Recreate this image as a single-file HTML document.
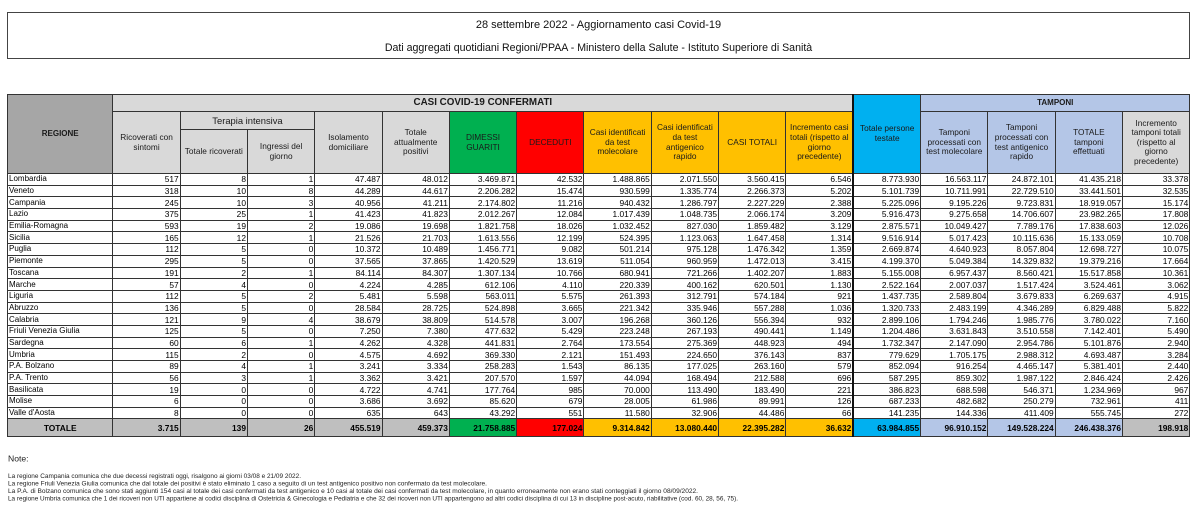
<!DOCTYPE html>
<html><head><meta charset="utf-8">
<style>
*{margin:0;padding:0;box-sizing:border-box}
body{width:1199px;height:513px;background:#fff;position:relative;overflow:hidden;font-family:"Liberation Sans",sans-serif;color:#111}
#title{position:absolute;left:7px;top:12px;width:1183px;height:47px;border:1px solid #444;text-align:center}
#t1{position:absolute;left:0;right:0;top:5px;font-size:11px;line-height:14px}
#t2{position:absolute;left:0;right:0;top:28px;font-size:10.6px;line-height:14px}
table{position:absolute;left:7px;top:94px;width:1182.4px;border-collapse:collapse;table-layout:fixed;border:1.5px solid #444}
td{border:1px solid #333;padding:0 1px;overflow:hidden;white-space:nowrap}
thead td{font-size:8.3px;line-height:9.6px;text-align:center;vertical-align:middle;color:#1a1a1a;overflow:visible}
tbody td{font-size:8.4px;line-height:10px;text-align:right;color:#000}
tbody td.r{text-align:left;font-size:8px}
.hreg{background:#a6a6a6;font-weight:bold;font-size:8px!important;vertical-align:middle}
.hg{background:#d9d9d9}
.hcasi{background:#d9d9d9;font-weight:bold;font-size:9.8px!important}
.ti{font-size:9.4px!important}
.hgreen{background:#00b050}
.hred{background:#ff0000}
.hy{background:#ffc000}
.hb{background:#00b0f0}
.hlb{background:#b4c6e7}
.tb{font-weight:bold;font-size:8px!important}
tr.tot td{font-weight:bold;background:#bfbfbf;font-size:8.4px}
tr.tot td.r{text-align:center}
tr.tot td.g{background:#00b050}
tr.tot td.rd{background:#ff0000}
tr.tot td.y{background:#ffc000}
tr.tot td.b{background:#00b0f0}
tr.tot td.lb{background:#b4c6e7}
tbody tr{height:11.7px}
.thk{border-left:2px solid #111}
</style></head><body>
<div id="title"><div id="t1">28 settembre 2022 - Aggiornamento casi Covid-19</div><div id="t2">Dati aggregati quotidiani Regioni/PPAA - Ministero della Salute - Istituto Superiore di Sanità</div></div>
<table>
<colgroup><col style="width:105.4px"><col style="width:67.3px"><col style="width:67.3px"><col style="width:67.3px"><col style="width:67.3px"><col style="width:67.3px"><col style="width:67.3px"><col style="width:67.3px"><col style="width:67.3px"><col style="width:67.3px"><col style="width:67.3px"><col style="width:67.3px"><col style="width:67.3px"><col style="width:67.3px"><col style="width:67.3px"><col style="width:67.3px"><col style="width:67.3px"></colgroup>
<thead>
<tr style="height:17px">
<td rowspan="3" class="hreg">REGIONE</td>
<td colspan="11" class="hcasi">CASI COVID-19 CONFERMATI</td>
<td rowspan="3" class="hb thk">Totale persone<br>testate</td>
<td colspan="4" class="hlb tb">TAMPONI</td>
</tr>
<tr style="height:18px">
<td rowspan="2" class="hg">Ricoverati con<br>sintomi</td>
<td colspan="2" class="hg ti">Terapia intensiva</td>
<td rowspan="2" class="hg">Isolamento<br>domiciliare</td>
<td rowspan="2" class="hg">Totale<br>attualmente<br>positivi</td>
<td rowspan="2" class="hgreen">DIMESSI<br>GUARITI</td>
<td rowspan="2" class="hred">DECEDUTI</td>
<td rowspan="2" class="hy">Casi identificati<br>da test<br>molecolare</td>
<td rowspan="2" class="hy">Casi identificati<br>da test<br>antigenico<br>rapido</td>
<td rowspan="2" class="hy">CASI TOTALI</td>
<td rowspan="2" class="hy">Incremento casi<br>totali (rispetto al<br>giorno<br>precedente)</td>
<td rowspan="2" class="hlb">Tamponi<br>processati con<br>test molecolare</td>
<td rowspan="2" class="hlb">Tamponi<br>processati con<br>test antigenico<br>rapido</td>
<td rowspan="2" class="hlb">TOTALE<br>tamponi<br>effettuati</td>
<td rowspan="2" class="hg">Incremento<br>tamponi totali<br>(rispetto al<br>giorno<br>precedente)</td>
</tr>
<tr style="height:44px">
<td class="hg">Totale ricoverati</td>
<td class="hg">Ingressi del<br>giorno</td>
</tr>
</thead>
<tbody>
<tr><td class="r">Lombardia</td><td>517</td><td>8</td><td>1</td><td>47.487</td><td>48.012</td><td>3.469.871</td><td>42.532</td><td>1.488.865</td><td>2.071.550</td><td>3.560.415</td><td>6.546</td><td class="thk">8.773.930</td><td>16.563.117</td><td>24.872.101</td><td>41.435.218</td><td>33.378</td></tr>
<tr><td class="r">Veneto</td><td>318</td><td>10</td><td>8</td><td>44.289</td><td>44.617</td><td>2.206.282</td><td>15.474</td><td>930.599</td><td>1.335.774</td><td>2.266.373</td><td>5.202</td><td class="thk">5.101.739</td><td>10.711.991</td><td>22.729.510</td><td>33.441.501</td><td>32.535</td></tr>
<tr><td class="r">Campania</td><td>245</td><td>10</td><td>3</td><td>40.956</td><td>41.211</td><td>2.174.802</td><td>11.216</td><td>940.432</td><td>1.286.797</td><td>2.227.229</td><td>2.388</td><td class="thk">5.225.096</td><td>9.195.226</td><td>9.723.831</td><td>18.919.057</td><td>15.174</td></tr>
<tr><td class="r">Lazio</td><td>375</td><td>25</td><td>1</td><td>41.423</td><td>41.823</td><td>2.012.267</td><td>12.084</td><td>1.017.439</td><td>1.048.735</td><td>2.066.174</td><td>3.209</td><td class="thk">5.916.473</td><td>9.275.658</td><td>14.706.607</td><td>23.982.265</td><td>17.808</td></tr>
<tr><td class="r">Emilia-Romagna</td><td>593</td><td>19</td><td>2</td><td>19.086</td><td>19.698</td><td>1.821.758</td><td>18.026</td><td>1.032.452</td><td>827.030</td><td>1.859.482</td><td>3.129</td><td class="thk">2.875.571</td><td>10.049.427</td><td>7.789.176</td><td>17.838.603</td><td>12.026</td></tr>
<tr><td class="r">Sicilia</td><td>165</td><td>12</td><td>1</td><td>21.526</td><td>21.703</td><td>1.613.556</td><td>12.199</td><td>524.395</td><td>1.123.063</td><td>1.647.458</td><td>1.314</td><td class="thk">9.516.914</td><td>5.017.423</td><td>10.115.636</td><td>15.133.059</td><td>10.708</td></tr>
<tr><td class="r">Puglia</td><td>112</td><td>5</td><td>0</td><td>10.372</td><td>10.489</td><td>1.456.771</td><td>9.082</td><td>501.214</td><td>975.128</td><td>1.476.342</td><td>1.359</td><td class="thk">2.669.874</td><td>4.640.923</td><td>8.057.804</td><td>12.698.727</td><td>10.075</td></tr>
<tr><td class="r">Piemonte</td><td>295</td><td>5</td><td>0</td><td>37.565</td><td>37.865</td><td>1.420.529</td><td>13.619</td><td>511.054</td><td>960.959</td><td>1.472.013</td><td>3.415</td><td class="thk">4.199.370</td><td>5.049.384</td><td>14.329.832</td><td>19.379.216</td><td>17.664</td></tr>
<tr><td class="r">Toscana</td><td>191</td><td>2</td><td>1</td><td>84.114</td><td>84.307</td><td>1.307.134</td><td>10.766</td><td>680.941</td><td>721.266</td><td>1.402.207</td><td>1.883</td><td class="thk">5.155.008</td><td>6.957.437</td><td>8.560.421</td><td>15.517.858</td><td>10.361</td></tr>
<tr><td class="r">Marche</td><td>57</td><td>4</td><td>0</td><td>4.224</td><td>4.285</td><td>612.106</td><td>4.110</td><td>220.339</td><td>400.162</td><td>620.501</td><td>1.130</td><td class="thk">2.522.164</td><td>2.007.037</td><td>1.517.424</td><td>3.524.461</td><td>3.062</td></tr>
<tr><td class="r">Liguria</td><td>112</td><td>5</td><td>2</td><td>5.481</td><td>5.598</td><td>563.011</td><td>5.575</td><td>261.393</td><td>312.791</td><td>574.184</td><td>921</td><td class="thk">1.437.735</td><td>2.589.804</td><td>3.679.833</td><td>6.269.637</td><td>4.915</td></tr>
<tr><td class="r">Abruzzo</td><td>136</td><td>5</td><td>0</td><td>28.584</td><td>28.725</td><td>524.898</td><td>3.665</td><td>221.342</td><td>335.946</td><td>557.288</td><td>1.036</td><td class="thk">1.320.733</td><td>2.483.199</td><td>4.346.289</td><td>6.829.488</td><td>5.822</td></tr>
<tr><td class="r">Calabria</td><td>121</td><td>9</td><td>4</td><td>38.679</td><td>38.809</td><td>514.578</td><td>3.007</td><td>196.268</td><td>360.126</td><td>556.394</td><td>932</td><td class="thk">2.899.106</td><td>1.794.246</td><td>1.985.776</td><td>3.780.022</td><td>7.160</td></tr>
<tr><td class="r">Friuli Venezia Giulia</td><td>125</td><td>5</td><td>0</td><td>7.250</td><td>7.380</td><td>477.632</td><td>5.429</td><td>223.248</td><td>267.193</td><td>490.441</td><td>1.149</td><td class="thk">1.204.486</td><td>3.631.843</td><td>3.510.558</td><td>7.142.401</td><td>5.490</td></tr>
<tr><td class="r">Sardegna</td><td>60</td><td>6</td><td>1</td><td>4.262</td><td>4.328</td><td>441.831</td><td>2.764</td><td>173.554</td><td>275.369</td><td>448.923</td><td>494</td><td class="thk">1.732.347</td><td>2.147.090</td><td>2.954.786</td><td>5.101.876</td><td>2.940</td></tr>
<tr><td class="r">Umbria</td><td>115</td><td>2</td><td>0</td><td>4.575</td><td>4.692</td><td>369.330</td><td>2.121</td><td>151.493</td><td>224.650</td><td>376.143</td><td>837</td><td class="thk">779.629</td><td>1.705.175</td><td>2.988.312</td><td>4.693.487</td><td>3.284</td></tr>
<tr><td class="r">P.A. Bolzano</td><td>89</td><td>4</td><td>1</td><td>3.241</td><td>3.334</td><td>258.283</td><td>1.543</td><td>86.135</td><td>177.025</td><td>263.160</td><td>579</td><td class="thk">852.094</td><td>916.254</td><td>4.465.147</td><td>5.381.401</td><td>2.440</td></tr>
<tr><td class="r">P.A. Trento</td><td>56</td><td>3</td><td>1</td><td>3.362</td><td>3.421</td><td>207.570</td><td>1.597</td><td>44.094</td><td>168.494</td><td>212.588</td><td>696</td><td class="thk">587.295</td><td>859.302</td><td>1.987.122</td><td>2.846.424</td><td>2.426</td></tr>
<tr><td class="r">Basilicata</td><td>19</td><td>0</td><td>0</td><td>4.722</td><td>4.741</td><td>177.764</td><td>985</td><td>70.000</td><td>113.490</td><td>183.490</td><td>221</td><td class="thk">386.823</td><td>688.598</td><td>546.371</td><td>1.234.969</td><td>967</td></tr>
<tr><td class="r">Molise</td><td>6</td><td>0</td><td>0</td><td>3.686</td><td>3.692</td><td>85.620</td><td>679</td><td>28.005</td><td>61.986</td><td>89.991</td><td>126</td><td class="thk">687.233</td><td>482.682</td><td>250.279</td><td>732.961</td><td>411</td></tr>
<tr><td class="r">Valle d'Aosta</td><td>8</td><td>0</td><td>0</td><td>635</td><td>643</td><td>43.292</td><td>551</td><td>11.580</td><td>32.906</td><td>44.486</td><td>66</td><td class="thk">141.235</td><td>144.336</td><td>411.409</td><td>555.745</td><td>272</td></tr>
<tr class="tot" style="height:17.5px"><td class="r">TOTALE</td><td>3.715</td><td>139</td><td>26</td><td>455.519</td><td>459.373</td><td class="g">21.758.885</td><td class="rd">177.024</td><td class="y">9.314.842</td><td class="y">13.080.440</td><td class="y">22.395.282</td><td class="y">36.632</td><td class="b thk">63.984.855</td><td class="lb">96.910.152</td><td class="lb">149.528.224</td><td class="lb">246.438.376</td><td>198.918</td></tr>
</tbody>
</table>
<svg width="1199" height="68" xmlns="http://www.w3.org/2000/svg" style="position:absolute;left:0;top:445px">
<g font-family="Liberation Sans, sans-serif" fill="#222">
<text x="8" y="16.5" font-size="8.6">Note:</text>
<text x="8" y="33" font-size="6.1" textLength="293" lengthAdjust="spacingAndGlyphs">La regione Campania comunica che due decessi registrati oggi, risalgono ai giorni 03/08 e 21/09 2022.</text>
<text x="8" y="40.5" font-size="6.1" textLength="479" lengthAdjust="spacingAndGlyphs">La regione Friuli Venezia Giulia comunica che dal totale dei positivi è stato eliminato 1 caso a seguito di un test antigenico positivo non confermato da test molecolare.</text>
<text x="8" y="48" font-size="6.1" textLength="690" lengthAdjust="spacingAndGlyphs">La P.A. di Bolzano comunica che sono stati aggiunti 154 casi al totale dei casi confermati da test antigenico e 10 casi al totale dei casi confermati da test molecolare, in quanto erroneamente non erano stati conteggiati il giorno 08/09/2022.</text>
<text x="8" y="55.3" font-size="6.1" textLength="730" lengthAdjust="spacingAndGlyphs">La regione Umbria comunica che 1 dei ricoveri non UTI appartiene ai codici disciplina di Ostetricia &amp; Ginecologia e Pediatria e che 32 dei ricoveri non UTI appartengono ad altri codici disciplina di cui 13 in discipline post-acuto, riabilitative (cod. 60, 28, 56, 75).</text>
</g>
</svg>
</body></html>
